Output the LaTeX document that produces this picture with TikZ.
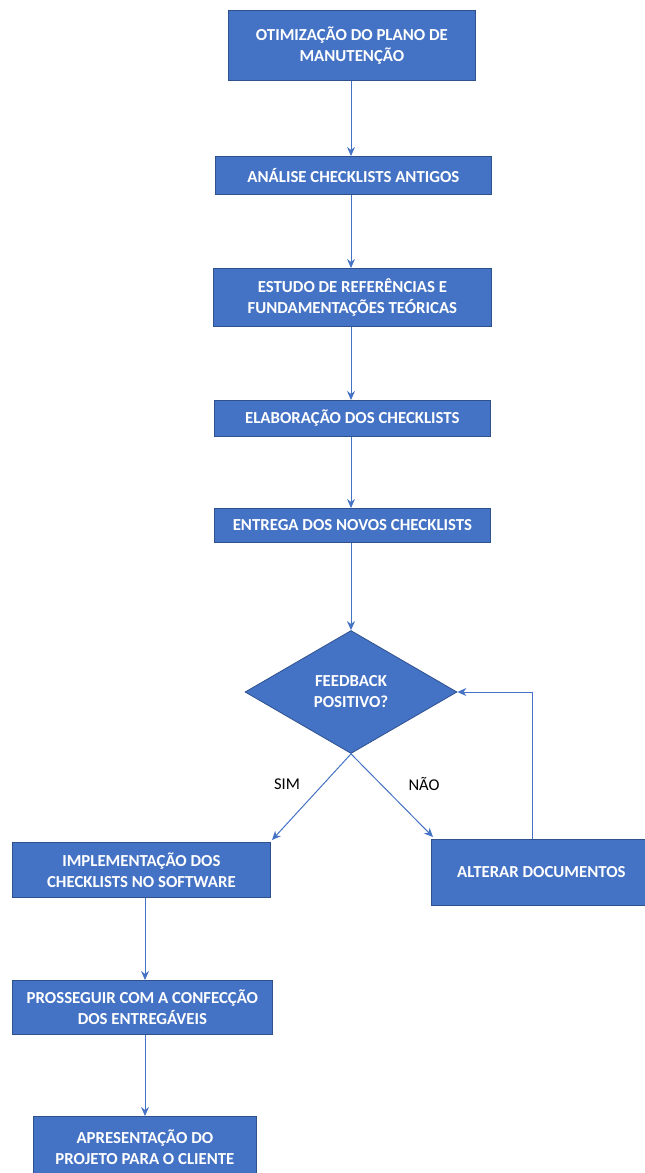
\documentclass[tikz,border=0pt]{standalone}
\usepackage{fontspec}
\setmainfont{Carlito}
\usetikzlibrary{shapes.geometric,arrows.meta}
\definecolor{boxblue}{HTML}{4472C4}
\definecolor{boxedge}{HTML}{2F528F}
\tikzset{
  stepbox/.style={draw=boxedge,line width=0.8pt,fill=boxblue,text=white,font=\bfseries\fontsize{16.8}{21}\selectfont,align=center,inner sep=0pt,anchor=north west},
  decision/.style={diamond,draw=boxedge,line width=0.8pt,fill=boxblue,text=white,font=\bfseries\fontsize{16.8}{21}\selectfont,align=center,inner sep=0pt,minimum width=212pt,minimum height=123pt,aspect=1.72},
  conn/.style={draw=boxblue,line width=1pt,-{Stealth[length=9pt,width=8pt]}},
  lbl/.style={font=\fontsize{16.5}{20}\selectfont,text=black}
}
\begin{document}
\begin{tikzpicture}[x=1pt,y=-1pt]
\useasboundingbox (0,0) rectangle (645,1173);
\clip (0,0) rectangle (645,1173);
\node[stepbox,minimum width=247pt,minimum height=70pt] (b1) at (228,10) {OTIMIZAÇÃO DO PLANO DE\\MANUTENÇÃO};
\node[stepbox,minimum width=276pt,minimum height=38pt] (b2) at (215,156) {ANÁLISE CHECKLISTS ANTIGOS};
\node[stepbox,minimum width=278pt,minimum height=58pt] (b3) at (213,268) {ESTUDO DE REFERÊNCIAS E\\FUNDAMENTAÇÕES TEÓRICAS};
\node[stepbox,minimum width=276pt,minimum height=36pt] (b4) at (214,400) {ELABORAÇÃO DOS CHECKLISTS};
\node[stepbox,minimum width=276pt,minimum height=34pt] (b5) at (214,508) {ENTREGA DOS NOVOS CHECKLISTS};
\node[decision] (d) at (351,692) {FEEDBACK\\POSITIVO?};
\node[stepbox,minimum width=258pt,minimum height=55pt] (s1) at (12,842) {IMPLEMENTAÇÃO DOS\\CHECKLISTS NO SOFTWARE};
\node[stepbox,minimum width=220pt,minimum height=66pt] (n1) at (431,839) {ALTERAR DOCUMENTOS};
\node[stepbox,minimum width=260pt,minimum height=54pt] (s2) at (12,980) {PROSSEGUIR COM A CONFECÇÃO\\DOS ENTREGÁVEIS};
\node[stepbox,minimum width=223pt,minimum height=62pt] (s3) at (33,1116) {APRESENTAÇÃO DO\\PROJETO PARA O CLIENTE};
\coordinate (sEnd) at (272,840);
\coordinate (nEnd) at (433,837);
\coordinate (loopTop) at (532,692);
\coordinate (mid) at (351,0);
\coordinate (left) at (145,0);
\draw[conn] (b1.south -| mid) -- (b2.north -| mid);
\draw[conn] (b2.south -| mid) -- (b3.north -| mid);
\draw[conn] (b3.south -| mid) -- (b4.north -| mid);
\draw[conn] (b4.south -| mid) -- (b5.north -| mid);
\draw[conn] (b5.south -| mid) -- (d.north);
\draw[conn] (d.south) -- (sEnd);
\draw[conn] (d.south) -- (nEnd);
\draw[conn] (n1.north -| loopTop) -- (loopTop) -- (d.east);
\draw[conn] (s1.south -| left) -- (s2.north -| left);
\draw[conn] (s2.south -| left) -- (s3.north -| left);
\node[lbl] (sim) at (287,784) {SIM};
\node[lbl] (nao) at (424,784) {NÃO};
\end{tikzpicture}
\end{document}
